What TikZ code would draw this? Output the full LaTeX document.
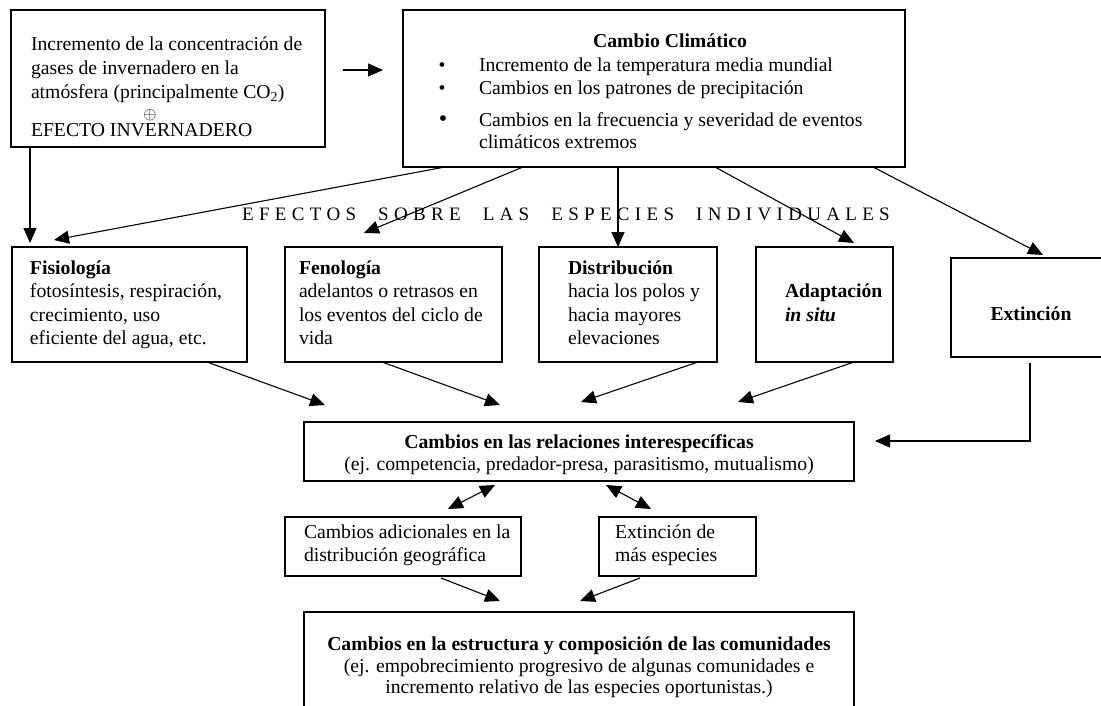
\documentclass[tikz,border=0pt]{standalone}
\usepackage{graphicx}
\usepackage{fontspec}
\setmainfont{Liberation Serif}
\newfontfamily\spacedfont[LetterSpace=28]{Liberation Serif}
\usetikzlibrary{arrows.meta,calc}
\newcommand\blk[2]{\parbox[t]{#1}{\raggedright #2}}
\begin{document}
\begin{tikzpicture}[x=1pt,y=-1pt,
  box/.style={draw, line width=1.2pt, rectangle, inner sep=0pt, outer sep=0pt, anchor=north west},
  txt/.style={inner sep=0pt, outer sep=0pt, font=\fontsize{19.7}{23.6}\selectfont, anchor=base west},
  ctxt/.style={txt, anchor=base},
  arr/.style={line width=1.1pt, -{Triangle[length=15pt,width=13pt]}},
  dbl/.style={line width=1.1pt, {Triangle[length=15pt,width=13pt]}-{Triangle[length=15pt,width=13pt]}}]
\path[use as bounding box] (0,0) rectangle (1101,706);
\clip (0,0) rectangle (1101,706);
% boxes
\node[box, minimum width=314pt, minimum height=137pt] (gas) at (11,10) {};
\node[box, minimum width=502pt, minimum height=157pt] (cc) at (403,10) {};
\node[box, minimum width=235pt, minimum height=115pt] (fis) at (12,247) {};
\node[box, minimum width=217pt, minimum height=115pt] (fen) at (285,247) {};
\node[box, minimum width=178pt, minimum height=115pt] (dis) at (539,247) {};
\node[box, minimum width=137pt, minimum height=115pt] (ada) at (756,247) {};
\node[box, minimum width=164pt, minimum height=99pt] (ext) at (951,258) {};
\node[box, minimum width=550pt, minimum height=59pt] (rel) at (304,422) {};
\node[box, minimum width=236pt, minimum height=59pt] (adi) at (285,517) {};
\node[box, minimum width=157pt, minimum height=59pt] (mas) at (599,517) {};
\node[box, minimum width=550pt, minimum height=118pt] (com) at (304,612) {};
% texts
\node[txt] (gasT) at (31,51) {\blk{290pt}{Incremento de la concentración de\\gases de invernadero en la\\atmósfera (principalmente CO\textsubscript{2})}};
\node[inner sep=0pt, outer sep=0pt, anchor=center] (plus) at (150,115) {\scalebox{1.7}{$\oplus$}};
\node[txt] (gasE) at (31,137) {EFECTO INVERNADERO};
\node[ctxt] (ccT) at (670,48) {\textbf{Cambio Climático}};
\node[txt, anchor=base] (b1) at (442,72) {•};
\node[txt, anchor=base] (b2) at (442,95) {•};
\node[txt, anchor=base, font=\fontsize{24}{26}\selectfont] (b3) at (443,127) {•};
\node[txt] (l1) at (479,72) {Incremento de la temperatura media mundial};
\node[txt] (l2) at (479,95) {Cambios en los patrones de precipitación};
\node[txt] (l3) at (479,127) {Cambios en la frecuencia y severidad de eventos};
\node[txt] (l4) at (479,149) {climáticos extremos};
\node[inner sep=0pt, anchor=base west] (efe) at (242,220) {\fontsize{19}{22}\spacedfont EFECTOS\hspace{12pt} SOBRE\hspace{12pt} LAS\hspace{12pt} ESPECIES\hspace{12pt} INDIVIDUALES};
\node[txt] (fisT) at (30,274) {\blk{215pt}{\textbf{Fisiología}\\fotosíntesis, respiración,\\crecimiento, uso\\eficiente del agua, etc.}};
\node[txt] (fenT) at (299,274) {\blk{200pt}{\textbf{Fenología}\\adelantos o retrasos en\\los eventos del ciclo de\\vida}};
\node[txt] (disT) at (568,274) {\blk{150pt}{\textbf{Distribución}\\hacia los polos y\\hacia mayores\\elevaciones}};
\node[txt] (adaT) at (785,297.6) {\blk{110pt}{\textbf{Adaptación}\\\textbf{\textit{in situ}}}};
\node[ctxt] (extT) at (1031,320) {\textbf{Extinción}};
\node[ctxt] (relT) at (579,448) {\textbf{Cambios en las relaciones interespecíficas}};
\node[ctxt] (relS) at (579,470) {(ej. competencia, predador-presa, parasitismo, mutualismo)};
\node[txt] (adiT) at (304,538) {\blk{215pt}{Cambios adicionales en la\\distribución geográfica}};
\node[txt] (masT) at (615,538) {\blk{135pt}{Extinción de\\más especies}};
\node[ctxt] (comT) at (579,650) {\textbf{Cambios en la estructura y composición de las comunidades}};
\node[ctxt] (comS) at (579,672) {(ej. empobrecimiento progresivo de algunas comunidades e};
\node[ctxt] (comU) at (579,693) {incremento relativo de las especies oportunistas.)};
% connectors
\draw[arr] ($(gas.east)+(18,-8.5)$) -- ($(cc.west)+(-20,-18.5)$);
\draw[arr] ($(gas.south west)+(19,0)$) -- ($(fis.north west)+(18,-4)$);
\draw[arr] ($(cc.south west)+(42,0)$) -- ($(fis.north west)+(42,-7)$);
\draw[arr] ($(cc.south west)+(120,0)$) -- ($(fen.north west)+(79,-14)$);
\draw[arr] ($(cc.south west)+(215,0)$) -- ($(dis.north west)+(79,0)$);
\draw[arr] ($(cc.south west)+(312,0)$) -- ($(ada.north west)+(98,-4)$);
\draw[arr] ($(cc.south west)+(470,0)$) -- ($(ext.north west)+(92,-3)$);
\draw[arr] ($(fis.south west)+(195,0)$) -- ($(rel.north west)+(21,-17)$);
\draw[arr] ($(fen.south west)+(97,0)$) -- ($(rel.north west)+(196,-17)$);
\draw[arr] ($(dis.south west)+(159,0)$) -- ($(rel.north west)+(277,-20)$);
\draw[arr] ($(ada.south west)+(98,0)$) -- ($(rel.north west)+(434,-20)$);
\draw[arr] ($(ext.south west)+(79,6)$) |- ($(rel.east)+(21,-10.5)$);
\draw[dbl] ($(rel.south west)+(191,4)$) -- ($(adi.north west)+(163,-8)$);
\draw[dbl] ($(rel.south west)+(302,4)$) -- ($(mas.north west)+(52,-8)$);
\draw[arr] ($(adi.south west)+(156,2)$) -- ($(com.north west)+(196,-11)$);
\draw[arr] ($(mas.south west)+(41,2)$) -- ($(com.north west)+(276,-11)$);
\end{tikzpicture}
\end{document}
